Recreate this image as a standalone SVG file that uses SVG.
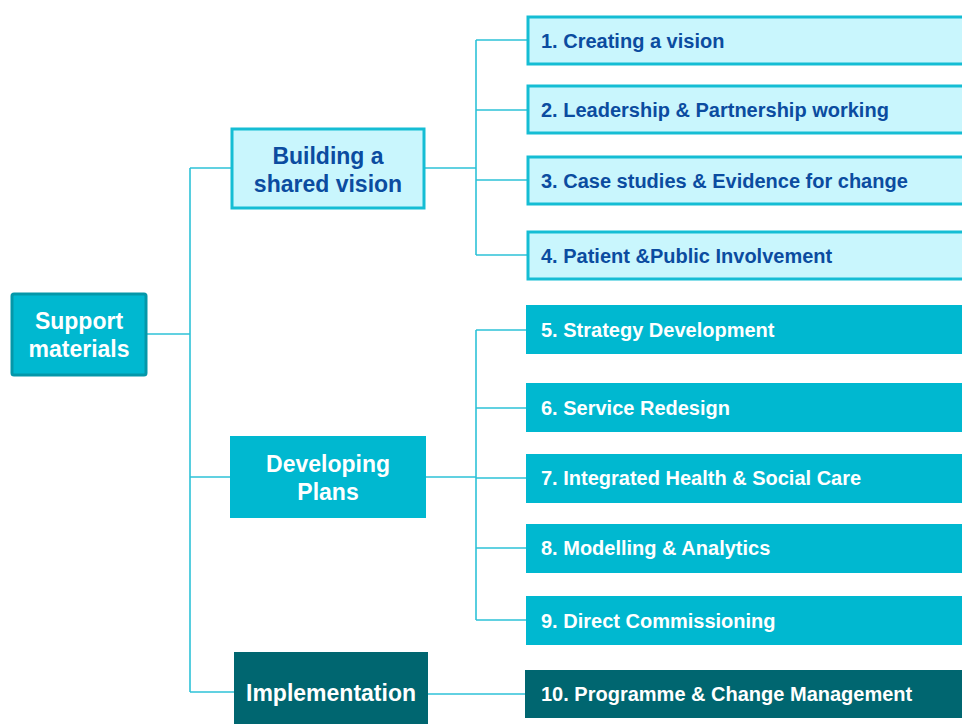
<svg xmlns="http://www.w3.org/2000/svg" width="962" height="724" viewBox="0 0 962 724">
<style>
  text { font-family: "Liberation Sans", Arial, sans-serif; font-weight: bold; }
  .hd { font-size: 23px; text-anchor: middle; }
  .it { font-size: 20px; }
  .light { fill: #c9f6fd; stroke: #15bdd4; stroke-width: 3; }
  .mid { fill: #00b8d0; }
  .dark { fill: #006670; }
  .tb { fill: #0b4ca0; }
  .tw { fill: #ffffff; }
  .conn { fill: none; stroke: #2ec2d8; stroke-width: 1.6; }
</style>
<rect width="962" height="724" fill="#ffffff"/>
<g id="connectors">
  <path class="conn" d="M147,334 H190 M190,168 V692 M190,168 H231 M190,477 H230 M190,692 H234"/>
  <path class="conn" d="M425,168 H476 M476,40 V255 M476,40 H527 M476,110 H527 M476,180 H527 M476,255 H527"/>
  <path class="conn" d="M425,477 H476 M476,330 V620 M476,330 H526 M476,408 H526 M476,478 H526 M476,548 H526 M476,620 H526"/>
  <path class="conn" d="M428,694 H525"/>
</g>
<g id="support">
  <rect x="12" y="294" width="134" height="81" rx="2" fill="#00b8d0" stroke="#0497a9" stroke-width="3"/>
  <text class="hd tw" x="79" y="329">Support</text>
  <text class="hd tw" x="79" y="357">materials</text>
</g>
<g id="building">
  <rect class="light" x="232" y="129" width="192" height="79"/>
  <text class="hd tb" x="328" y="164">Building a</text>
  <text class="hd tb" x="328" y="192">shared vision</text>
</g>
<g id="developing">
  <rect class="mid" x="230" y="436" width="196" height="82"/>
  <text class="hd tw" x="328" y="472">Developing</text>
  <text class="hd tw" x="328" y="500">Plans</text>
</g>
<g id="implementation">
  <rect class="dark" x="234" y="652" width="194" height="72"/>
  <text class="hd tw" x="331" y="701" font-size="24">Implementation</text>
</g>
<g id="item1">
  <rect class="light" x="528" y="17" width="440" height="47"/>
  <text class="it tb" x="541" y="48">1. Creating a vision</text>
</g>
<g id="item2">
  <rect class="light" x="528" y="86" width="440" height="47"/>
  <text class="it tb" x="541" y="117">2. Leadership &amp; Partnership working</text>
</g>
<g id="item3">
  <rect class="light" x="528" y="157" width="440" height="47"/>
  <text class="it tb" x="541" y="188">3. Case studies &amp; Evidence for change</text>
</g>
<g id="item4">
  <rect class="light" x="528" y="232" width="440" height="47"/>
  <text class="it tb" x="541" y="263">4. Patient &amp;Public Involvement</text>
</g>
<g id="item5">
  <rect class="mid" x="526" y="305" width="436" height="49"/>
  <text class="it tw" x="541" y="337">5. Strategy Development</text>
</g>
<g id="item6">
  <rect class="mid" x="526" y="383" width="436" height="49"/>
  <text class="it tw" x="541" y="415">6. Service Redesign</text>
</g>
<g id="item7">
  <rect class="mid" x="526" y="454" width="436" height="49"/>
  <text class="it tw" x="541" y="485">7. Integrated Health &amp; Social Care</text>
</g>
<g id="item8">
  <rect class="mid" x="526" y="524" width="436" height="49"/>
  <text class="it tw" x="541" y="555">8. Modelling &amp; Analytics</text>
</g>
<g id="item9">
  <rect class="mid" x="526" y="596" width="436" height="49"/>
  <text class="it tw" x="541" y="628">9. Direct Commissioning</text>
</g>
<g id="item10">
  <rect class="dark" x="525" y="670" width="437" height="48"/>
  <text class="it tw" x="541" y="701">10. Programme &amp; Change Management</text>
</g>
</svg>
